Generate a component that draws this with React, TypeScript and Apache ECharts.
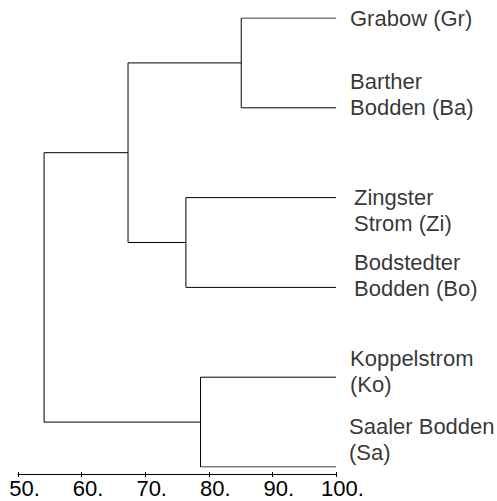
import React, { useEffect, useRef } from "react";
import * as echarts from "echarts";

// Leaves (top to bottom) and merges of the dendrogram
const leafNames = [
  "Grabow (Gr)",
  "Barther\nBodden (Ba)",
  "Zingster\nStrom (Zi)",
  "Bodstedter\nBodden (Bo)",
  "Koppelstrom\n(Ko)",
  "Saaler Bodden\n(Sa)",
];
const leafHeight = 100;
// node ids: 0..5 leaves, 6.. merges in order
const mergeLeft = [0, 2, 4, 6, 8];
const mergeRight = [1, 3, 5, 7, 9];
const mergeHeights = [85.1, 76.4, 78.7, 67.3, 54.1];

const axisMin = 50;
const axisMax = 100;
const axisInterval = 10;

// label placement (style only)
const labelOffsets: [number, number][] = [
  [14, 0],
  [14, -13],
  [18, 12.5],
  [18, -12],
  [14, -6],
  [13, -28],
];

const FONT = "'Liberation Sans', Arial, Helvetica, sans-serif";

export default function App() {
  const ref = useRef<HTMLDivElement>(null);
  useEffect(() => {
    document.body.style.margin = "0";
    if (!ref.current) return;
    const chart = echarts.init(ref.current, null, { renderer: "svg" });

    const nodes: { x: number; y: number }[] = leafNames.map((_, i) => ({
      x: leafHeight,
      y: i,
    }));
    const linkData: any[] = [];
    mergeHeights.forEach((h, k) => {
      const a = nodes[mergeLeft[k]];
      const b = nodes[mergeRight[k]];
      nodes.push({ x: h, y: (a.y + b.y) / 2 });
      linkData.push({
        coords: [
          [a.x, a.y],
          [h, a.y],
          [h, b.y],
          [b.x, b.y],
        ],
      });
    });

    chart.setOption({
      animation: false,
      grid: { left: 18, right: 161, top: 18, bottom: 34, containLabel: false },
      xAxis: [
        {
          type: "value",
          min: axisMin,
          max: axisMax,
          interval: axisInterval,
          position: "bottom",
          offset: 7,
          splitLine: { show: false },
          axisLine: { show: true, onZero: false, lineStyle: { color: "#000", width: 1 } },
          axisTick: { show: true, length: 3, lineStyle: { color: "#000", width: 1 } },
          axisLabel: {
            show: true,
            formatter: (v: number) => v.toFixed(0) + ".",
            color: "#000",
            fontSize: 22,
            fontFamily: FONT,
            margin: 3,
            padding: [0, 0, 0, 13],
          },
        },
        {
          type: "value",
          min: axisMin,
          max: axisMax,
          interval: axisInterval,
          position: "bottom",
          offset: 7,
          splitLine: { show: false },
          axisLine: { show: false, onZero: false },
          axisTick: { show: true, inside: true, length: 2, lineStyle: { color: "#000", width: 1 } },
          axisLabel: { show: false },
        },
      ],
      yAxis: {
        type: "value",
        min: 0,
        max: leafNames.length - 1,
        inverse: true,
        show: false,
      },
      series: [
        {
          type: "lines",
          coordinateSystem: "cartesian2d",
          polyline: true,
          silent: true,
          lineStyle: { color: "#000", width: 1, opacity: 1 },
          data: linkData,
        },
        {
          type: "scatter",
          symbolSize: 0,
          silent: true,
          data: leafNames.map((name, i) => ({
            value: [leafHeight, i],
            name,
            label: {
              show: true,
              position: "right",
              distance: 0,
              offset: labelOffsets[i],
              formatter: name,
              color: "#000",
              fontSize: 22,
              lineHeight: 26,
              fontFamily: FONT,
              align: "left",
            },
          })),
        },
      ],
    });
    return () => chart.dispose();
  }, []);
  return <div ref={ref} style={{ width: 497, height: 501 }} />;
}
